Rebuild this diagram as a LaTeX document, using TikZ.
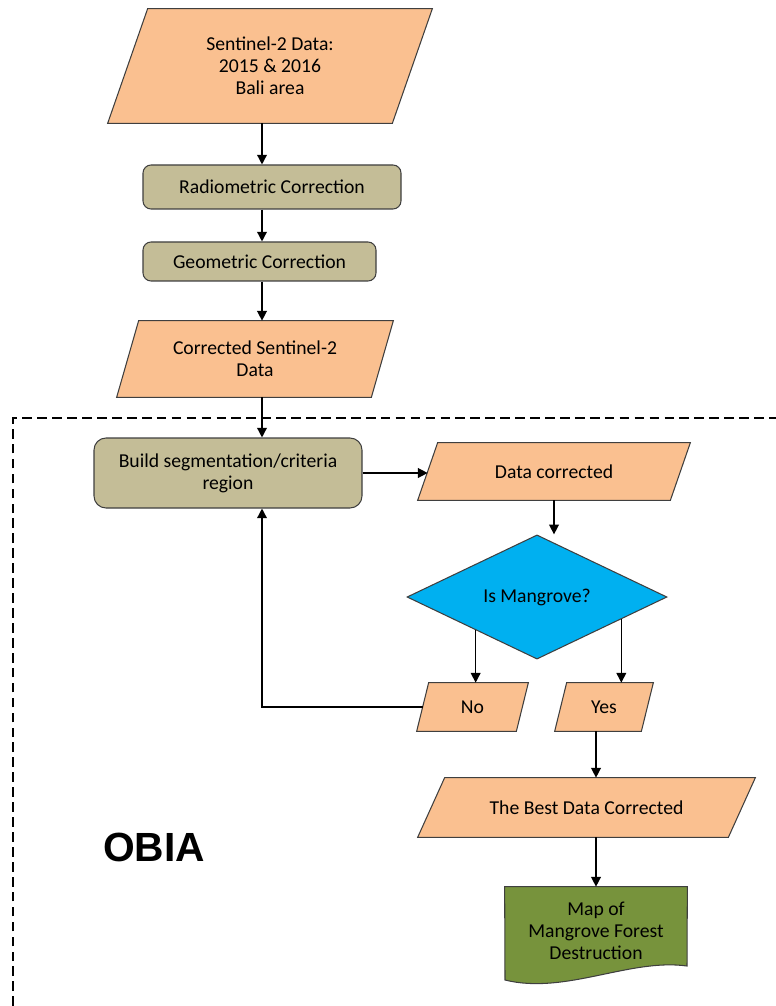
\documentclass[tikz,border=0pt]{standalone}
\usepackage{fontspec}
\setmainfont{Carlito}
\newfontfamily\obiafont{Liberation Sans}
\usetikzlibrary{shapes.geometric,arrows.meta,calc,backgrounds}
\definecolor{peach}{HTML}{FAC090}
\definecolor{khaki}{HTML}{C4BD97}
\definecolor{skyblue}{HTML}{00B0F0}
\definecolor{mapgreen}{HTML}{77933C}
\definecolor{edge}{HTML}{3F3F3F}
\newdimen\pxu \pxu=0.02cm
\tikzset{
  data/.style={rectangle, align=center, inner sep=0pt},
  datafill/.style={draw=edge, fill=peach, line width=0.6pt},
  proc/.style={rectangle, draw=edge, fill=khaki, line width=0.6pt, align=center, inner sep=0pt},
  decide/.style={diamond, draw=edge, fill=skyblue, line width=0.6pt, align=center, inner sep=0pt},
  arr/.style={-{Triangle[length=5.5pt,width=5.5pt]}, line width=0.8pt},
  obiabox/.style={line width=1.1pt, dash pattern=on 5.5pt off 3pt}
}
\begin{document}
\begin{tikzpicture}[x=0.02cm, y=-0.02cm, font=\fontsize{11.2}{12.4}\selectfont]
    \useasboundingbox (0,0) rectangle (776,1006);
    \coordinate (spine) at (262,0);
    \node[data, minimum width=284\pxu, minimum height=114\pxu] (src) at (270,66) {Sentinel-2 Data:\\2015 \& 2016\\Bali area};
    \node[proc, rounded corners=8\pxu, minimum width=258\pxu, minimum height=44\pxu] (rad) at (272,187) {Radiometric Correction};
    \node[proc, rounded corners=8\pxu, minimum width=233\pxu, minimum height=39\pxu] (geo) at (259.5,261.5) {Geometric Correction};
    \node[data, minimum width=254\pxu, minimum height=76\pxu] (corr) at (255,359) {Corrected Sentinel-2\\Data};
    \node[proc, rounded corners=12\pxu, minimum width=268\pxu, minimum height=70\pxu] (build) at (228,473) {Build segmentation/criteria\\region};
    \node[data, minimum width=252\pxu, minimum height=57\pxu] (dc) at (554,471.5) {Data corrected};
    \node[decide, minimum width=260\pxu, minimum height=103\pxu] (dia) at (537,597) {Is Mangrove?};
    \node[data, minimum width=99\pxu, minimum height=48\pxu] (no) at (472.5,707) {No};
    \node[data, minimum width=86\pxu, minimum height=48\pxu] (yes) at (604,707) {Yes};
    \node[data, minimum width=310\pxu, minimum height=59\pxu] (best) at (586.5,807.5) {The Best Data Corrected};
    \node[align=center, inner sep=0pt, minimum width=182\pxu, minimum height=88\pxu] (map) at (596,931) {Map of\\Mangrove Forest\\Destruction};
    \begin{scope}[on background layer]
    \foreach \n/\d in {src/20, corr/11, dc/10, no/6, yes/6, best/13.5}
      \filldraw[datafill] ([xshift=-\d\pxu]\n.south west) -- ([xshift=-\d\pxu]\n.south east) -- ([xshift=\d\pxu]\n.north east) -- ([xshift=\d\pxu]\n.north west) -- cycle;
    \filldraw[draw=edge, fill=mapgreen, line width=0.6pt] (map.north west) -- (map.north east) -- (687,966) .. controls (630,958) and (565,995) .. (505,980) -- cycle;
    \end{scope}
    \node[font=\obiafont\bfseries\fontsize{23.2}{28}\selectfont] (obia) at (154,847) {OBIA};
    \draw[obiabox] (13,1006) -- (13,418) -- (776,418);
    \draw[arr] (src.south -| spine) -- (rad.north -| spine);
    \draw[arr] (rad.south -| spine) -- (geo.north -| spine);
    \draw[arr] (geo.south -| spine) -- (corr.north -| spine);
    \draw[arr] (corr.south -| spine) -- (build.north -| spine);
    \draw[arr] (build.east) -- (build.east -| dc.west);
    \draw[arr] (dc.south) -- (dc.south |- dia.north);
    \coordinate (noout) at ($(dia.west)!0.53!(dia.south)$);
    \coordinate (yesout) at ($(dia.east)!0.354!(dia.south)$);
    \draw[arr] (noout) -- (noout |- no.north);
    \draw[arr] (yesout) -- (yesout |- yes.north);
    \draw[arr] (no.west) -| (build.south -| spine);
    \draw[arr] (map.north |- yes.south) -- (map.north |- best.north);
    \draw[arr] (map.north |- best.south) -- (map.north);
\end{tikzpicture}
\end{document}
